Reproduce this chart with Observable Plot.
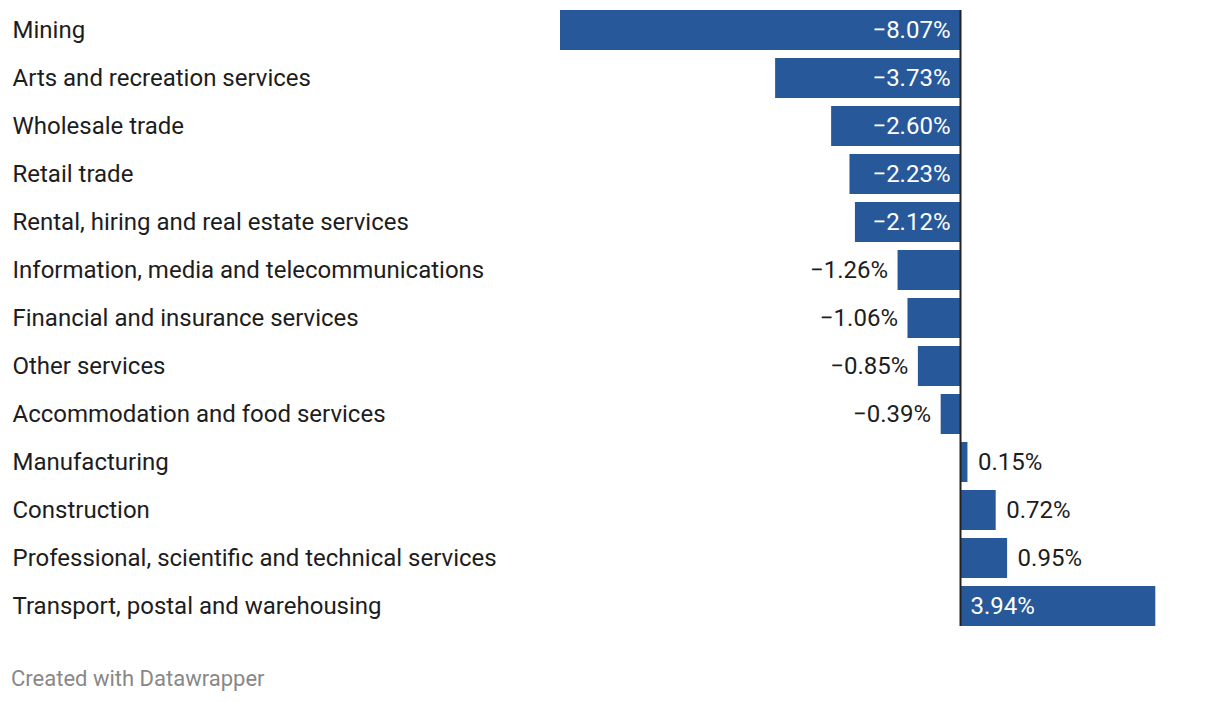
<!DOCTYPE html>
<html>
<head>
<meta charset="utf-8">
<script src="https://cdn.jsdelivr.net/npm/d3@7"></script>
<script src="https://cdn.jsdelivr.net/npm/@observablehq/plot@0.6"></script>
<style>
  html, body { margin: 0; padding: 0; background: #fff; }
  body { width: 1220px; height: 702px; overflow: hidden; font-family: Roboto, "Noto Sans", sans-serif; }
  #chart svg { display: block; }
  #caption { margin-top: 30px; padding-left: 11px; font-size: 22px; line-height: 26px; color: #888; font-family: Roboto, sans-serif; }
</style>
</head>
<body>
<div id="chart"></div>
<div id="caption">Created with Datawrapper</div>
<script>
const industries = [
  "Mining",
  "Arts and recreation services",
  "Wholesale trade",
  "Retail trade",
  "Rental, hiring and real estate services",
  "Information, media and telecommunications",
  "Financial and insurance services",
  "Other services",
  "Accommodation and food services",
  "Manufacturing",
  "Construction",
  "Professional, scientific and technical services",
  "Transport, postal and warehousing"
];
const changes = [-8.07, -3.73, -2.60, -2.23, -2.12, -1.26, -1.06, -0.85, -0.39, 0.15, 0.72, 0.95, 3.94];
const labelInside = [true, true, true, true, true, false, false, false, false, false, false, false, true];

const data = industries.map((name, i) => ({name, value: changes[i], inside: labelInside[i]}));
const fmt = v => (v < 0 ? "\u2212" : "") + Math.abs(v).toFixed(2) + "%";

const barColor = "#27599a";
const textColor = "#1d1d1d";

const insideNeg = data.filter(d => d.inside && d.value < 0);
const insidePos = data.filter(d => d.inside && d.value >= 0);
const outsideNeg = data.filter(d => !d.inside && d.value < 0);
const outsidePos = data.filter(d => !d.inside && d.value >= 0);

const chart = Plot.plot({
  width: 1220,
  height: 636,
  marginLeft: 560,
  marginRight: 64.7,
  marginTop: 6,
  marginBottom: 6,
  style: {fontFamily: "Roboto, sans-serif", fontSize: "24px", color: textColor, background: "#fff"},
  x: {domain: [-8.07, 3.94], axis: null},
  y: {domain: industries, axis: null, paddingInner: 8/48, paddingOuter: 4/48},
  marks: [
    Plot.barX(data, {x: "value", y: "name", fill: barColor}),
    Plot.ruleX([0], {stroke: "#222", strokeWidth: 2, insetTop: 4, insetBottom: 4}),
    Plot.text(data, {y: "name", text: "name", frameAnchor: "left", textAnchor: "start", dx: -548, fill: textColor, fontSize: 24}),
    Plot.text(insideNeg, {x: 0, y: "name", text: d => fmt(d.value), textAnchor: "end", dx: -10, fill: "#fff", fontSize: 24}),
    Plot.text(insidePos, {x: 0, y: "name", text: d => fmt(d.value), textAnchor: "start", dx: 10, fill: "#fff", fontSize: 24}),
    Plot.text(outsideNeg, {x: "value", y: "name", text: d => fmt(d.value), textAnchor: "end", dx: -10, fill: textColor, fontSize: 24}),
    Plot.text(outsidePos, {x: "value", y: "name", text: d => fmt(d.value), textAnchor: "start", dx: 10, fill: textColor, fontSize: 24})
  ]
});
document.getElementById("chart").appendChild(chart);
</script>
</body>
</html>
